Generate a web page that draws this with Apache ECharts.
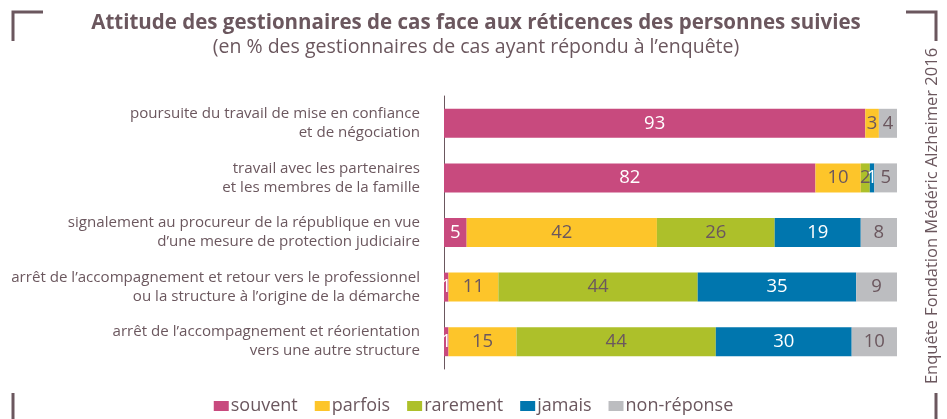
<!DOCTYPE html>
<html><head><meta charset="utf-8">
<script src="https://cdn.jsdelivr.net/npm/echarts@6/dist/echarts.min.js"></script>
<style>html,body{margin:0;padding:0;background:#fff}#c{width:947px;height:419px}</style>
</head><body><div id="c"></div>
<script>
const categories = [
  "poursuite du travail de mise en confiance\net de négociation",
  "travail avec les partenaires\net les membres de la famille",
  "signalement au procureur de la république en vue\nd’une mesure de protection judiciaire",
  "arrêt de l’accompagnement et retour vers le professionnel\nou la structure à l’origine de la démarche",
  "arrêt de l’accompagnement et réorientation\nvers une autre structure"
];
const souvent    = [93, 82, 5, 1, 1];
const parfois    = [3, 10, 42, 11, 15];
const rarement   = [0, 2, 26, 44, 44];
const jamais     = [0, 1, 19, 35, 30];
const nonReponse = [4, 5, 8, 9, 10];
const seriesNames = ["souvent", "parfois", "rarement", "jamais", "non-réponse"];

const TXT = '#6B575E';
const FONT = 'Open Sans';
const colors = ['#C84A7E', '#FDC52A', '#ADC02A', '#0076AE', '#BCBDC0'];
const labelColors = ['#fff', TXT, TXT, '#fff', TXT];
const datas = [souvent, parfois, rarement, jamais, nonReponse];

const chart = echarts.init(document.getElementById('c'));
chart.setOption({
  animation: false,
  textStyle: { fontFamily: FONT, color: TXT },
  title: {
    text: 'Attitude des gestionnaires de cas face aux réticences des personnes suivies',
    subtext: '(en % des gestionnaires de cas ayant répondu à l’enquête)',
    left: 471, textAlign: 'center', top: 8, itemGap: 3,
    textStyle: { fontFamily: FONT, fontSize: 20.5, fontWeight: 'bold', color: TXT },
    subtextStyle: { fontFamily: FONT, fontSize: 19.5, color: TXT }
  },
  legend: {
    bottom: -1, left: 'center', itemWidth: 15, itemHeight: 10, itemGap: 17,
    icon: 'rect',
    textStyle: { fontFamily: FONT, fontSize: 18, color: TXT, padding: [0, 0, 0, -3] },
    data: seriesNames
  },
  grid: { left: 444, right: 50, top: 96, bottom: 50, containLabel: false, outerBoundsMode: 'none' },
  xAxis: { type: 'value', min: 0, max: 100, show: false },
  yAxis: {
    type: 'category', data: categories, inverse: true,
    axisLine: { show: true, lineStyle: { color: '#6B575E', width: 1 } },
    axisTick: { show: false },
    axisLabel: { fontFamily: FONT, fontSize: 15.1, color: TXT, lineHeight: 19, margin: 24, align: 'right' }
  },
  series: seriesNames.map((n, i) => ({
    name: n, type: 'bar', stack: 'all', barWidth: 29,
    itemStyle: { color: colors[i] },
    label: {
      show: true, position: 'inside', fontFamily: FONT, fontSize: 18.5, color: labelColors[i],
      formatter: p => p.value > 0 ? p.value : ''
    },
    data: datas[i]
  })),
  graphic: [
    { type: 'polyline', shape: { points: [[13, 41], [13, 12], [43, 12]] }, style: { stroke: '#6B575E', lineWidth: 3, fill: null } },
    { type: 'polyline', shape: { points: [[906, 12], [936, 12], [936, 41]] }, style: { stroke: '#6B575E', lineWidth: 3, fill: null } },
    { type: 'line', shape: { x1: 13, y1: 393, x2: 13, y2: 419 }, style: { stroke: '#6B575E', lineWidth: 3 } },
    { type: 'line', shape: { x1: 936, y1: 393, x2: 936, y2: 419 }, style: { stroke: '#6B575E', lineWidth: 3 } },
    { type: 'text', x: 932, y: 216, rotation: Math.PI / 2,
      style: { text: 'Enquête Fondation Médéric Alzheimer 2016', fontFamily: FONT, fontSize: 16.5, fill: TXT, align: 'center', verticalAlign: 'middle' } }
  ]
});
</script></body></html>
